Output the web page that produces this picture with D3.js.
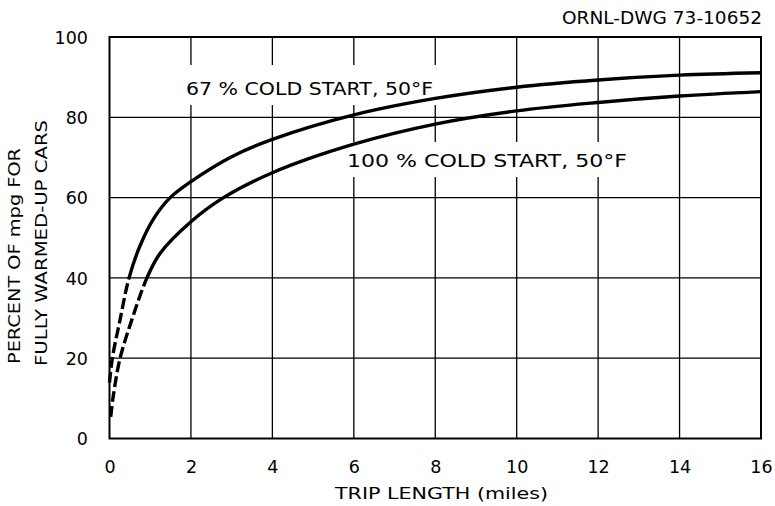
<!DOCTYPE html>
<html><head><meta charset="utf-8">
<script src="https://cdn.jsdelivr.net/npm/d3@7"></script>
<style>body{margin:0;background:#fff}svg{display:block}text{font-family:"DejaVu Sans",sans-serif;fill:#000}</style>
</head><body><svg id="c" width="775" height="506"></svg>
<script>
// ---- data ----
const xTicks = [0, 2, 4, 6, 8, 10, 12, 14, 16];
const yTicks = [0, 20, 40, 60, 80, 100];
const upperMiles = [0, 0.07, 0.26, 0.48, 0.75, 1.1, 1.49, 2, 3, 4, 6, 8, 10, 12, 14, 16];
const upperPct   = [13.9, 20, 29.6, 40, 48, 55, 60, 64, 70.2, 74.5, 80.6, 84.7, 87.5, 89.3, 90.5, 91.1];
const lowerMiles = [0.03, 0.09, 0.26, 0.55, 0.92, 1.24, 2, 2.8, 4, 6, 8, 10, 12, 14, 16];
const lowerPct   = [5.4, 10.4, 20, 29.6, 40, 46.1, 54, 60, 66.2, 73.3, 78.3, 81.6, 83.7, 85.3, 86.4];
const upperDashedUntil = 0.48;   // miles; extrapolated (dashed) part
const lowerDashedUntil = 0.9;
const seriesLabels = ["67 % COLD START, 50°F", "100 % COLD START, 50°F"];
const yTitle = ["PERCENT OF mpg FOR", "FULLY WARMED-UP CARS"];
const xTitle = "TRIP LENGTH (miles)";
const drawingId = "ORNL-DWG 73-10652";

// ---- layout ----
const svg = d3.select("#c");
const L = 109.5, R = 761, T = 37, B = 438.5;
const x = d3.scaleLinear().domain([0, 16]).range([L, R]);
const y = d3.scaleLinear().domain([0, 100]).range([B, T]);

// grid
const g = svg.append("g");
g.selectAll("line.v").data(xTicks.slice(1, -1)).join("line")
  .attr("x1", d => x(d)).attr("x2", d => x(d)).attr("y1", T).attr("y2", B)
  .attr("stroke", "#000").attr("stroke-width", 1.3);
g.selectAll("line.h").data(yTicks.slice(1, -1)).join("line")
  .attr("y1", d => y(d)).attr("y2", d => y(d)).attr("x1", L).attr("x2", R)
  .attr("stroke", "#000").attr("stroke-width", 1.3);

// white masks behind labels (gaps in grid)
svg.append("rect").attr("x", 176).attr("y", 65).attr("width", 266).attr("height", 40).attr("fill", "#fff");
svg.append("rect").attr("x", 338).attr("y", 142).attr("width", 298).attr("height", 35).attr("fill", "#fff");

// frame
svg.append("rect").attr("x", L).attr("y", T).attr("width", R - L).attr("height", B - T)
  .attr("fill", "none").attr("stroke", "#000").attr("stroke-width", 2);

// axes (tick labels)
const xAxis = d3.axisBottom(x).tickValues(xTicks).tickSize(0).tickPadding(0).tickFormat(d3.format("d"));
const xa = svg.append("g").attr("transform", `translate(0,${B})`).call(xAxis);
xa.select(".domain").remove();
xa.selectAll("text").attr("dy", null).attr("y", 34.5).attr("font-size", 17.5).attr("font-family", "DejaVu Sans");
const yAxis = d3.axisLeft(y).tickValues(yTicks).tickSize(0).tickPadding(0).tickFormat(d3.format("d"));
const ya = svg.append("g").attr("transform", `translate(${88},0)`).call(yAxis);
ya.select(".domain").remove();
ya.selectAll("text").attr("x", 0).attr("dy", "0.36em").attr("font-size", 17.5).attr("font-family", "DejaVu Sans");

// curves: one smooth path each, dashed up to the split point, solid after
const line = d3.line().x(d => x(d[0])).y(d => y(d[1])).curve(d3.curveCatmullRom.alpha(0.5));
function drawSeries(mx, py, until) {
  const pts = mx.map((m, i) => [m, py[i]]);
  const path = svg.append("path").attr("d", line(pts)).attr("fill", "none")
    .attr("stroke", "#000").attr("stroke-width", 3.4);
  const node = path.node();
  const total = node.getTotalLength();
  const xs = x(until);
  let lo = 0, hi = total;
  for (let i = 0; i < 40; i++) {
    const mid = (lo + hi) / 2;
    if (node.getPointAtLength(mid).x < xs) lo = mid; else hi = mid;
  }
  const dash = [];
  let acc = 0;
  while (acc + 15 <= lo) { dash.push(11, 4); acc += 15; }
  dash.push(total + 20, 0);
  path.attr("stroke-dasharray", dash.join(","));
}
drawSeries(upperMiles, upperPct, upperDashedUntil);
drawSeries(lowerMiles, lowerPct, lowerDashedUntil);

// labels
function label(xp, yp, size, len, txt) {
  return svg.append("text").attr("x", xp).attr("y", yp).attr("font-size", size)
    .attr("textLength", len).attr("lengthAdjust", "spacingAndGlyphs").text(txt);
}
label(186, 95, 18, 247, seriesLabels[0]);
label(347, 167, 18, 280, seriesLabels[1]);
label(562, 24, 17, 200, drawingId);
label(335, 499, 15.5, 213, xTitle);
svg.append("text").attr("transform", "translate(20,364) rotate(-90)").attr("font-size", 16)
  .attr("textLength", 216).attr("lengthAdjust", "spacingAndGlyphs").text(yTitle[0]);
svg.append("text").attr("transform", "translate(47,366) rotate(-90)").attr("font-size", 16)
  .attr("textLength", 246).attr("lengthAdjust", "spacingAndGlyphs").text(yTitle[1]);
</script></body></html>
